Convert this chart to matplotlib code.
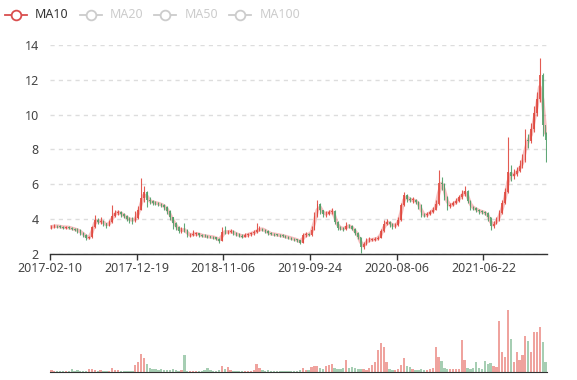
import numpy as np
import pandas as pd
import matplotlib
matplotlib.use('Agg')
import matplotlib.pyplot as plt
from matplotlib.lines import Line2D

plt.rcParams['font.family'] = ['Noto Sans', 'DejaVu Sans']

# DATA (each candle ~ 7 trading days)
close = [3.56, 3.62, 3.58, 3.57, 3.52, 3.55, 3.50, 3.46, 3.40, 3.35,
         3.22, 3.10, 2.92, 2.95, 3.55, 3.98, 3.85, 3.88, 3.76, 3.62,
         3.85, 4.20, 4.38, 4.40, 4.28, 4.18, 4.02, 3.98, 3.92, 4.08,
         4.55, 5.20, 5.55, 5.10, 5.02, 4.95, 4.92, 4.88, 4.80, 4.70,
         4.45, 4.12, 3.78, 3.55, 3.32, 3.40, 3.38, 3.08, 3.10, 3.15,
         3.18, 3.10, 3.05, 3.02, 3.00, 2.98, 2.95, 2.88, 2.75, 3.28,
         3.25, 3.28, 3.30, 3.18, 3.12, 3.05, 3.00, 3.08, 3.14, 3.18,
         3.25, 3.35, 3.45, 3.40, 3.30, 3.18, 3.15, 3.12, 3.08, 3.07,
         3.03, 2.98, 2.94, 2.88, 2.84, 2.78, 2.65, 3.10, 3.12, 3.10,
         3.40, 4.20, 4.85, 4.50, 4.28, 4.32, 4.42, 4.48, 3.85, 3.52,
         3.48, 3.43, 3.62, 3.60, 3.45, 3.20, 2.98, 2.40, 2.55, 2.80,
         2.82, 2.82, 2.88, 2.92, 3.30, 3.70, 3.85, 3.72, 3.60, 3.68,
         3.95, 4.80, 5.40, 5.15, 5.10, 5.10, 5.00, 4.80, 4.25, 4.22,
         4.30, 4.42, 4.55, 4.85, 6.10, 6.00, 5.30, 4.75, 4.82, 4.90,
         5.05, 5.25, 5.45, 5.60, 5.05, 4.70, 4.62, 4.52, 4.45, 4.40,
         4.34, 4.10, 3.60, 3.75, 3.95, 4.35, 4.90, 5.55, 6.70, 6.50,
         6.60, 6.75, 7.05, 7.40, 8.55, 8.50, 9.20, 10.10, 10.90, 12.30,
         9.40, 8.55]
first_open = 3.50
high = [3.66, 3.72, 3.68, 3.65, 3.62, 3.60, 3.58, 3.55, 3.52, 3.48,
        3.42, 3.28, 3.15, 3.05, 3.62, 4.25, 4.05, 4.10, 3.95, 3.80,
        3.95, 4.80, 4.55, 4.52, 4.45, 4.35, 4.25, 4.12, 4.10, 4.45,
        4.75, 6.35, 5.90, 5.60, 5.25, 5.12, 5.05, 5.00, 4.95, 4.85,
        4.75, 4.50, 4.15, 3.85, 3.60, 3.55, 3.80, 3.42, 3.22, 3.40,
        3.28, 3.22, 3.15, 3.12, 3.10, 3.06, 3.04, 2.98, 2.90, 3.55,
        3.60, 3.40, 3.42, 3.35, 3.25, 3.18, 3.12, 3.18, 3.22, 3.28,
        3.35, 3.78, 3.60, 3.52, 3.45, 3.35, 3.24, 3.20, 3.16, 3.14,
        3.12, 3.08, 3.04, 2.98, 2.94, 2.88, 2.82, 3.22, 3.25, 3.20,
        3.62, 4.40, 5.10, 4.95, 4.55, 4.45, 4.55, 4.62, 4.52, 3.90,
        3.60, 3.55, 3.85, 3.72, 3.68, 3.50, 3.25, 3.00, 2.70, 2.92,
        2.95, 2.92, 2.98, 3.05, 3.45, 3.95, 4.00, 3.90, 3.78, 3.80,
        4.10, 4.95, 5.55, 5.45, 5.30, 5.25, 5.15, 5.05, 4.85, 4.35,
        4.42, 4.55, 4.70, 5.10, 6.80, 6.40, 6.05, 5.35, 4.95, 5.05,
        5.20, 5.40, 5.70, 5.88, 5.65, 5.10, 4.78, 4.68, 4.60, 4.55,
        4.48, 4.40, 4.15, 3.90, 4.10, 4.50, 5.10, 5.80, 8.70, 7.10,
        6.90, 7.00, 7.40, 7.75, 9.20, 8.90, 9.50, 10.50, 11.30, 13.25,
        12.40, 9.00]
low = [3.46, 3.52, 3.52, 3.50, 3.44, 3.45, 3.42, 3.36, 3.30, 3.18,
       3.10, 3.00, 2.82, 2.85, 2.92, 3.50, 3.72, 3.75, 3.62, 3.52,
       3.58, 3.80, 4.10, 4.25, 4.15, 4.05, 3.88, 3.78, 3.75, 3.85,
       4.00, 4.50, 5.00, 4.70, 4.85, 4.82, 4.80, 4.75, 4.68, 4.55,
       4.30, 3.95, 3.45, 3.38, 3.20, 3.22, 3.25, 2.98, 2.98, 3.02,
       3.05, 3.00, 2.98, 2.95, 2.92, 2.90, 2.86, 2.78, 2.62, 2.72,
       3.12, 3.15, 3.18, 3.08, 3.02, 2.95, 2.92, 2.95, 3.00, 3.06,
       3.10, 3.20, 3.30, 3.32, 3.22, 3.10, 3.08, 3.06, 3.02, 3.00,
       2.96, 2.92, 2.86, 2.80, 2.76, 2.70, 2.58, 2.62, 3.00, 3.02,
       3.05, 3.35, 4.15, 4.30, 4.10, 4.15, 4.25, 4.30, 3.70, 3.40,
       3.36, 3.32, 3.40, 3.48, 3.35, 3.10, 2.85, 2.05, 2.30, 2.50,
       2.70, 2.72, 2.75, 2.82, 2.90, 3.25, 3.65, 3.55, 3.42, 3.50,
       3.62, 3.90, 4.75, 5.00, 4.98, 4.95, 4.85, 4.60, 4.10, 4.10,
       4.15, 4.25, 4.38, 4.50, 4.80, 5.70, 5.10, 4.55, 4.65, 4.75,
       4.85, 5.00, 5.15, 5.35, 4.90, 4.55, 4.50, 4.40, 4.32, 4.28,
       4.22, 3.90, 3.38, 3.50, 3.70, 3.90, 4.30, 4.85, 5.50, 6.20,
       6.30, 6.45, 6.70, 6.95, 7.30, 8.10, 8.40, 9.00, 9.90, 10.70,
       8.80, 7.30]
volume = [2, 1.5, 1, 1, 1, 1.5, 1, 3, 1.5, 2,
          1, 1, 1.5, 3, 3.5, 2, 1.5, 2, 1.5, 1,
          1.5, 4, 2, 2, 1.5, 1, 1, 1, 1.5, 7,
          10, 18, 14, 8, 4, 3, 3, 2.5, 3, 2,
          2, 2, 3, 2, 1.5, 2, 17, 1.5, 1, 1,
          1, 1, 1, 2, 4, 2, 1.5, 1, 2, 6,
          3, 5, 2, 1.5, 1, 1, 1, 1, 1, 1.5,
          2, 8, 4, 2, 1.5, 2, 1.5, 1, 1.5, 1,
          1, 1, 1, 1, 1, 1, 2, 4, 2, 2,
          5, 6, 6, 4, 3, 6, 7, 8, 4, 3,
          3, 4, 12, 4, 5, 4, 3, 3, 3, 2.5,
          4, 7, 10, 22, 29, 25, 10, 3, 2, 2,
          3, 7, 14, 6, 5, 3, 2, 2, 3, 2,
          2, 3, 4, 25, 15, 11, 4, 3, 3, 3,
          3, 3, 32, 12, 4, 3, 4, 10, 4, 3,
          11, 8, 9, 6, 5, 51, 20, 15, 62, 33,
          10, 20, 12, 17, 36, 31, 20, 40, 40, 45,
          30, 10]
tick_index = [0, 30, 60, 90, 120, 150]
tick_labels = ['2017-02-10', '2017-12-19', '2018-11-06', '2019-09-24',
               '2020-08-06', '2021-06-22']
legend_names = ['MA10', 'MA20', 'MA50', 'MA100']

UP = '#e0493f'
DOWN = '#4f9e68'

df = pd.DataFrame({'close': close, 'high': high, 'low': low, 'volume': volume})
df['open'] = df['close'].shift(1).fillna(first_open)
df['ma10'] = df['close'].rolling(2, min_periods=1).mean()
x = np.arange(len(df))
up = df['close'] >= df['open']
colors = np.where(up, UP, DOWN)

fig = plt.figure(figsize=(5.77, 3.8), dpi=100)
W, H = 577, 380
ax = fig.add_axes([50 / W, 1 - 254 / H, 497 / W, 209 / H])
axv = fig.add_axes([50 / W, 1 - 372 / H, 497 / W, 72 / H])

# candles, MA line underneath
ax.plot(x, df['ma10'], color='#eb7070', alpha=0.45, linewidth=2.6, zorder=2)
ax.vlines(x, df['low'], df['high'], colors=colors, linewidth=0.8, alpha=0.9, zorder=3)
body_bottom = np.minimum(df['open'], df['close'])
body_h = np.maximum(np.abs(df['close'] - df['open']), 0.03)
ax.bar(x, body_h, bottom=body_bottom, width=0.5, color=colors, linewidth=0, alpha=0.85, zorder=3)

ax.set_xlim(-0.5, len(df) - 0.5)
ax.set_ylim(2, 14)
ax.set_yticks([2, 4, 6, 8, 10, 12, 14])
ax.set_yticklabels(['2', '4', '6', '8', '10', '12', '14'])
ax.set_xticks([i - 0.5 for i in tick_index])
ax.set_xticklabels(tick_labels)
for s in ['top', 'right', 'left']:
    ax.spines[s].set_visible(False)
ax.spines['bottom'].set_color('#333333')
ax.spines['bottom'].set_linewidth(1)
ax.tick_params(axis='y', length=0, pad=8, labelsize=9, labelcolor='#444444')
ax.tick_params(axis='x', length=4, width=1, color='#333333', pad=1.5, labelsize=9, labelcolor='#444444')
ax.grid(axis='y', color='#dddddd', linewidth=1, linestyle=(0, (3, 3)))
ax.set_axisbelow(True)

# volume
axv.bar(x, df['volume'], width=0.8, color=colors, alpha=0.5, linewidth=0)
axv.set_xlim(-0.5, len(df) - 0.5)
axv.set_ylim(0, 72)
for s in ['top', 'right', 'left']:
    axv.spines[s].set_visible(False)
axv.spines['bottom'].set_color('#333333')
axv.set_xticks([])
axv.set_yticks([])

# legend
icon_x = [16, 91, 165, 240]
text_x = [35, 110, 185, 260]
for k, name in enumerate(legend_names):
    c = '#d94e4e' if k == 0 else '#cccccc'
    tc = '#333333' if k == 0 else '#cccccc'
    cx = icon_x[k]
    fig.add_artist(Line2D([(cx - 11) / W, (cx + 11) / W], [1 - 15 / H, 1 - 15 / H],
                          transform=fig.transFigure, color=c, linewidth=1.3))
    fig.add_artist(Line2D([cx / W], [1 - 15 / H], transform=fig.transFigure,
                          marker='o', markersize=7, markerfacecolor='white',
                          markeredgecolor=c, markeredgewidth=1.3, linestyle='none'))
    fig.text(text_x[k] / W, 1 - 15 / H, name, color=tc, fontsize=9, va='center', ha='left')

fig.savefig('out.png', dpi=100)
